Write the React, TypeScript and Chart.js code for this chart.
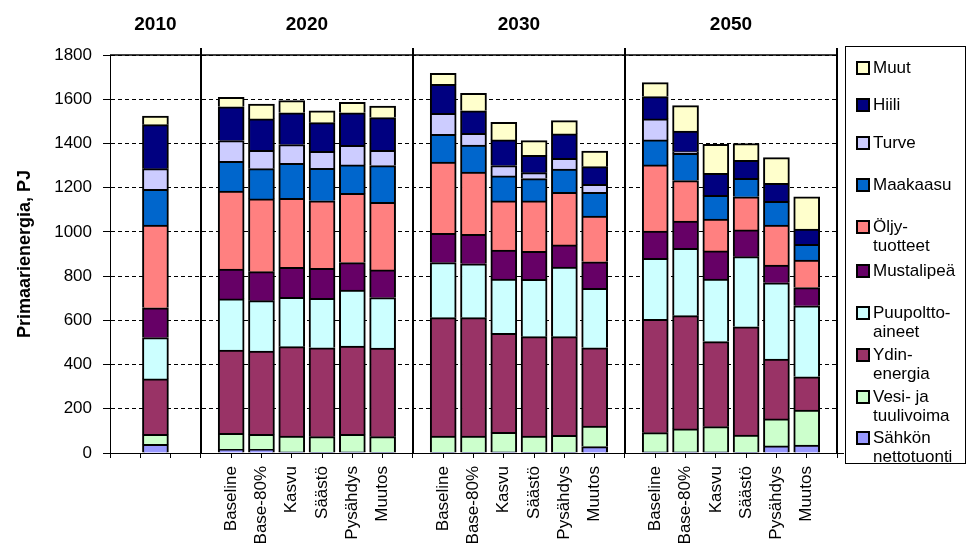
import React, { useEffect, useRef } from 'react';
import { Chart, registerables } from 'chart.js';

Chart.register(...registerables);

const FONT = "'Liberation Sans', Arial, sans-serif";

const years = ['2010', '2020', '2030', '2050'];
const scenarios = ['Baseline', 'Base-80%', 'Kasvu', 'Säästö', 'Pysähdys', 'Muutos'];

// Values per bar (PJ): [2010, 2020 × scenarios, 2030 × scenarios, 2050 × scenarios]
const sahkonNettotuonti = [39, 17, 17, 5, 3, 5, 3, 3, 3, 5, 3, 3, 29, 5, 5, 5, 3, 32, 36];
const vesiJaTuulivoima = [45, 72, 67, 72, 71, 79, 71, 74, 74, 88, 74, 77, 93, 87, 104, 114, 78, 122, 158];
const ydinenergia = [251, 377, 377, 404, 402, 400, 401, 535, 535, 448, 449, 446, 354, 513, 512, 385, 490, 271, 151];
const puupolttoaineet = [187, 231, 228, 223, 224, 253, 228, 249, 244, 246, 259, 315, 269, 275, 305, 283, 317, 345, 321];
const mustalipea = [135, 135, 131, 136, 135, 124, 125, 133, 133, 131, 127, 100, 120, 124, 123, 127, 121, 80, 82];
const oljytuotteet = [374, 353, 329, 312, 306, 313, 306, 322, 282, 222, 228, 238, 207, 299, 183, 144, 150, 181, 125];
const maakaasu = [161, 134, 137, 158, 147, 129, 166, 125, 122, 113, 101, 105, 107, 113, 123, 107, 83, 107, 71];
const turve = [94, 94, 83, 85, 76, 89, 69, 95, 53, 47, 27, 49, 36, 95, 8, 0, 0, 0, 0];
const hiili = [199, 153, 142, 144, 130, 147, 148, 131, 102, 116, 78, 110, 80, 101, 93, 100, 82, 82, 69];
const muut = [39, 43, 67, 55, 53, 47, 52, 50, 79, 80, 67, 60, 71, 63, 115, 131, 75, 116, 146];

const yMax = 1800;
const yStep = 200;
const yTitle = 'Primaarienergia, PJ';

// series, bottom of the stack first
const series = [
  { name: ['Sähkön', 'nettotuonti'], values: sahkonNettotuonti, color: '#9999FF' },
  { name: ['Vesi- ja', 'tuulivoima'], values: vesiJaTuulivoima, color: '#CCFFCC' },
  { name: ['Ydin-', 'energia'], values: ydinenergia, color: '#993366' },
  { name: ['Puupoltto-', 'aineet'], values: puupolttoaineet, color: '#CCFFFF' },
  { name: ['Mustalipeä'], values: mustalipea, color: '#660066' },
  { name: ['Öljy-', 'tuotteet'], values: oljytuotteet, color: '#FF8080' },
  { name: ['Maakaasu'], values: maakaasu, color: '#0066CC' },
  { name: ['Turve'], values: turve, color: '#CCCCFF' },
  { name: ['Hiili'], values: hiili, color: '#000080' },
  { name: ['Muut'], values: muut, color: '#FFFFCC' },
];

// Build bar slots along a linear axis: 2010 section has a single bar in the middle,
// the other sections hold one bar per scenario with a one-slot gap.
type Slot = { x: number; label: string };
type Section = { start: number; end: number; year: string };
const slots: Slot[] = [];
const sections: Section[] = [];
(() => {
  let cursor = 0;
  years.forEach((yr, gi) => {
    if (gi === 0) {
      const span = 3;
      slots.push({ x: cursor + span / 2, label: '' });
      sections.push({ start: cursor, end: cursor + span, year: yr });
      cursor += span;
    } else {
      const span = scenarios.length + 1;
      scenarios.forEach((s, i) => slots.push({ x: cursor + i + 1, label: s }));
      sections.push({ start: cursor, end: cursor + span, year: yr });
      cursor += span;
    }
  });
})();
const totalSlots = sections[sections.length - 1].end;
const labelMap = new Map<number, string>();
slots.forEach((s) => labelMap.set(s.x, s.label));

const framePlugin = {
  id: 'frame',
  afterDraw(chart: any) {
    const { ctx, chartArea, scales } = chart;
    const { left, right, top, bottom } = chartArea;
    const x = scales.x;
    ctx.save();
    ctx.strokeStyle = '#000';
    ctx.lineWidth = 1.5;
    ctx.beginPath();
    ctx.moveTo(left, top);
    ctx.lineTo(right, top);
    ctx.stroke();
    ctx.lineWidth = 2;
    sections.forEach((s) => {
      const px = Math.round(x.getPixelForValue(s.end));
      ctx.beginPath();
      ctx.moveTo(px, top - 7);
      ctx.lineTo(px, bottom);
      ctx.stroke();
    });
    ctx.lineWidth = 1;
    ctx.beginPath();
    ctx.moveTo(right, bottom + 0.5);
    ctx.lineTo(right + 7, bottom + 0.5);
    ctx.stroke();
    ctx.fillStyle = '#000';
    ctx.font = `bold 19px ${FONT}`;
    ctx.textAlign = 'center';
    ctx.textBaseline = 'middle';
    sections.forEach((s) => {
      ctx.fillText(s.year, x.getPixelForValue((s.start + s.end) / 2), 25);
    });
    ctx.restore();
  },
};

const legendCenters = [68, 105, 143, 185, 227, 271, 313, 355, 397, 438];

export default function App() {
  const canvasRef = useRef<HTMLCanvasElement>(null);

  useEffect(() => {
    const canvas = canvasRef.current;
    if (!canvas) return;
    Chart.defaults.font.family = FONT;
    Chart.defaults.color = '#000';
    const chart = new Chart(canvas, {
      type: 'bar',
      data: {
        datasets: series.map((s) => ({
          label: s.name.join(' '),
          data: slots.map((slot, i) => ({ x: slot.x, y: s.values[i] })),
          backgroundColor: s.color,
          borderColor: '#000',
          borderWidth: 2,
          barThickness: 26,
        })),
      },
      options: {
        responsive: false,
        animation: false,
        layout: { padding: { top: 55, right: 136, bottom: 0, left: 0 } },
        plugins: { legend: { display: false }, tooltip: { enabled: false } },
        scales: {
          x: {
            type: 'linear',
            min: 0,
            max: totalSlots,
            offset: false,
            stacked: true,
            grid: {
              display: true,
              offset: false,
              drawOnChartArea: false,
              drawTicks: true,
              tickLength: 5,
              color: '#000',
              tickColor: '#000',
            },
            border: { display: true, color: '#000', width: 1 },
            ticks: {
              stepSize: 1,
              autoSkip: false,
              maxRotation: 90,
              minRotation: 90,
              padding: 8,
              color: '#000',
              font: { size: 17, family: FONT },
              callback: (v: any) => labelMap.get(Number(v)) ?? '',
            },
            afterFit: (s: any) => {
              s.height = 107;
            },
          },
          y: {
            stacked: true,
            min: 0,
            max: yMax,
            ticks: {
              stepSize: yStep,
              padding: 11,
              color: '#000',
              font: { size: 17, family: FONT },
              callback: (v: any) => String(v),
            },
            grid: { color: '#000', lineWidth: 1, tickLength: 7, tickColor: '#000', drawTicks: true },
            border: { display: true, color: '#000', width: 1, dash: [4, 3] },
            title: {
              display: true,
              text: yTitle,
              color: '#000',
              font: { size: 18, weight: 'bold', family: FONT },
              padding: { top: 14, bottom: 0 },
            },
            afterFit: (s: any) => {
              s.width = 110;
            },
          },
        },
      } as any,
      plugins: [framePlugin],
    });
    return () => chart.destroy();
  }, []);

  const legendItems = [...series].reverse();

  return (
    <div style={{ position: 'fixed', left: 0, top: 0, width: 973, height: 560, background: '#fff', fontFamily: FONT }}>
      <canvas ref={canvasRef} width={973} height={560} style={{ position: 'absolute', left: 0, top: 0 }} />
      <div
        style={{
          position: 'absolute',
          left: 845,
          top: 46,
          width: 121,
          height: 418,
          border: '1px solid #000',
          boxSizing: 'border-box',
          background: '#fff',
        }}
      />
      {legendItems.map((s, i) => (
        <React.Fragment key={s.name.join(' ')}>
          <div
            style={{
              position: 'absolute',
              left: 856,
              top: legendCenters[i] - 7,
              width: 14,
              height: 14,
              boxSizing: 'border-box',
              border: '2px solid #000',
              background: s.color,
            }}
          />
          <div
            style={{
              position: 'absolute',
              left: 873,
              top: legendCenters[i] - 10,
              fontSize: 17,
              lineHeight: '19px',
              color: '#000',
              whiteSpace: 'nowrap',
            }}
          >
            {s.name.map((line) => (
              <div key={line}>{line}</div>
            ))}
          </div>
        </React.Fragment>
      ))}
    </div>
  );
}
